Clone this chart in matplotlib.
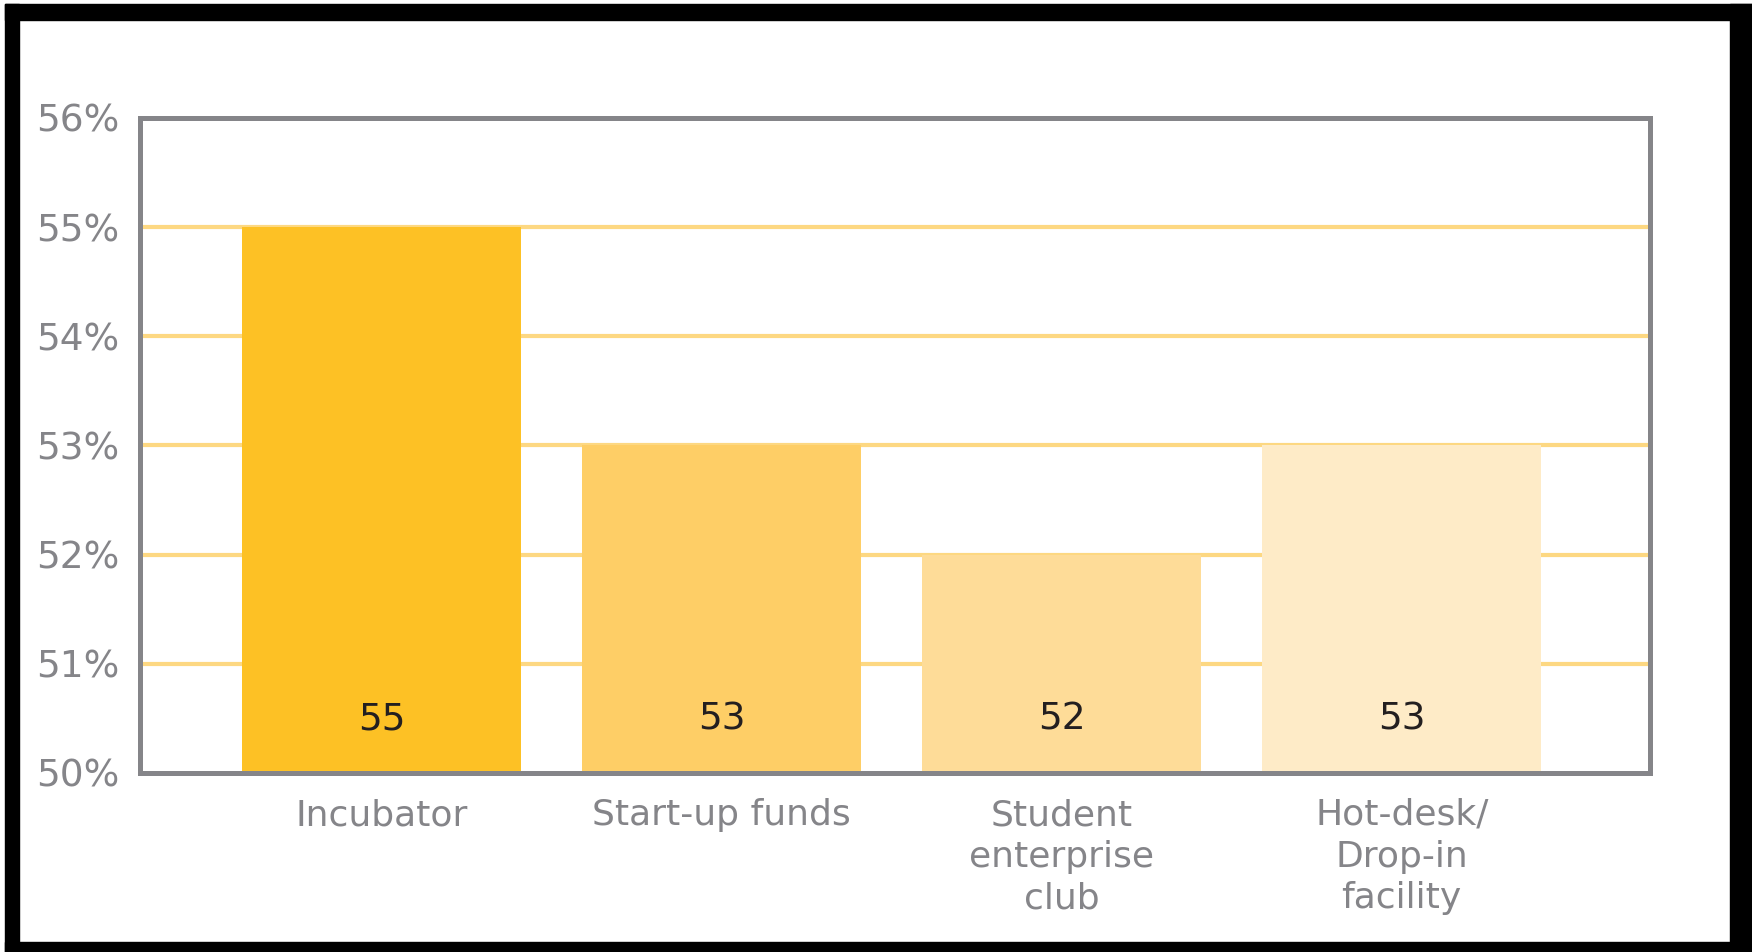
import matplotlib
matplotlib.use("Agg")
import matplotlib.pyplot as plt
from matplotlib.patches import Rectangle

# datos de la grafica
categorias = ["Incubator", "Start-up funds", "Student\nenterprise\nclub", "Hot-desk/\nDrop-in\nfacility"]
valores = [55, 53, 52, 53]
etiquetas = ["55", "53", "52", "53"]
colores = ["#FDC125", "#FECE66", "#FEDC98", "#FEEBC7"]
ticks_y = [50, 51, 52, 53, 54, 55, 56]
ticks_y_txt = ["50%", "51%", "52%", "53%", "54%", "55%", "56%"]

gris = "#858589"
fuente = "DejaVu Sans"

fig = plt.figure(figsize=(17.52, 9.52), dpi=100)
ax = fig.add_axes([140 / 1752, 179 / 952, 1510 / 1752, 655 / 952])

ax.bar(range(len(valores)), [v - 50 for v in valores], bottom=50, width=0.82,
       color=colores, zorder=2)

for i, t in enumerate(etiquetas):
    ax.text(i, 50.49, t, ha="center", va="center", fontsize=27,
            family=fuente, color="#231F20", zorder=3)

ax.set_xlim(-0.71, 3.73)
ax.set_ylim(50, 56)

# lineas horizontales amarillas
for y in ticks_y[1:-1]:
    ax.axhline(y, color="#FDD882", lw=3, zorder=1)

ax.set_yticks(ticks_y)
ax.set_yticklabels(ticks_y_txt, fontsize=27, family=fuente, color=gris)
ax.set_xticks(range(len(categorias)))
ax.set_xticklabels(categorias, fontsize=26, family=fuente, color=gris,
                   linespacing=1.28, va="top")
ax.tick_params(axis="both", length=0)
ax.tick_params(axis="y", pad=15)
ax.tick_params(axis="x", pad=18)

for s in ax.spines.values():
    s.set_color(gris)
    s.set_linewidth(3.6)
    s.set_zorder(4)

# marco negro alrededor de la figura
marcos = [(5, 0, 14, 948), (5, 932, 1747, 16), (1730, 0, 22, 948), (5, 0, 1747, 10)]
for x, y, w, h in marcos:
    fig.patches.append(Rectangle((x / 1752, y / 952), w / 1752, h / 952,
                                 transform=fig.transFigure, color="black"))

fig.savefig("out.png", dpi=100)
